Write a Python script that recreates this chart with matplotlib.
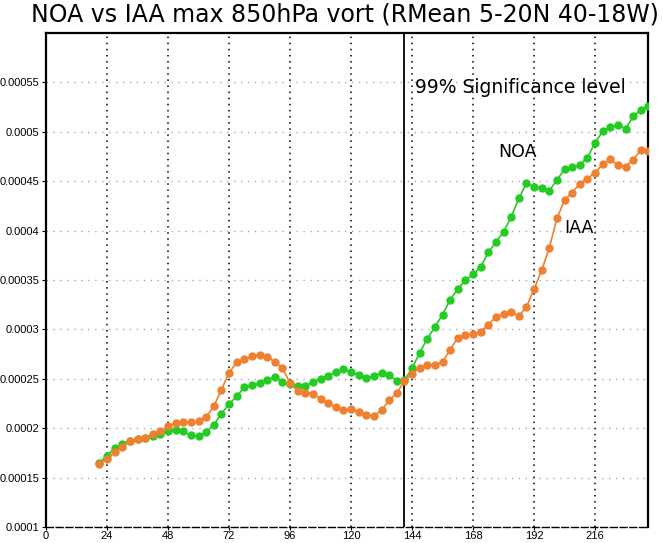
import numpy as np
import matplotlib
matplotlib.use("Agg")
import matplotlib.pyplot as plt

# forecast hour
hours = [21, 24, 27, 30, 33, 36, 39, 42, 45, 48, 51, 54, 57, 60, 63, 66, 69, 72, 75, 78,
         81, 84, 87, 90, 93, 96, 99, 102, 105, 108, 111, 114, 117, 120, 123, 126, 129, 132,
         135, 138, 141, 144, 147, 150, 153, 156, 159, 162, 165, 168, 171, 174, 177, 180,
         183, 186, 189, 192, 195, 198, 201, 204, 207, 210, 213, 216, 219, 222, 225, 228,
         231, 234, 237]

# vorticity, in units of 1e-4 s-1
noa = [1.652, 1.723, 1.798, 1.839, 1.875, 1.892, 1.900, 1.916, 1.943, 1.970, 1.984, 1.967,
       1.926, 1.916, 1.963, 2.034, 2.146, 2.244, 2.322, 2.413,
       2.433, 2.453, 2.484, 2.521, 2.468, 2.443, 2.423, 2.423, 2.471, 2.501, 2.531, 2.565,
       2.595, 2.569, 2.534, 2.511, 2.528, 2.559, 2.539, 2.478, 2.485,
       2.607, 2.764, 2.907, 3.025, 3.150, 3.299, 3.411, 3.495, 3.559, 3.630, 3.779, 3.884,
       3.989, 4.137, 4.327, 4.479, 4.445,
       4.428, 4.405, 4.512, 4.621, 4.644, 4.664, 4.739, 4.891, 5.003, 5.050, 5.067, 5.033,
       5.155, 5.222, 5.263]
iaa = [1.636, 1.690, 1.758, 1.814, 1.869, 1.889, 1.900, 1.943, 1.970, 2.017, 2.052, 2.058,
       2.058, 2.072, 2.113, 2.220, 2.389, 2.559, 2.666, 2.697,
       2.727, 2.738, 2.721, 2.673, 2.609, 2.453, 2.379, 2.356, 2.349, 2.298, 2.254, 2.210,
       2.180, 2.190, 2.163, 2.136, 2.119, 2.184, 2.281, 2.356, 2.478,
       2.550, 2.613, 2.643, 2.636, 2.673, 2.795, 2.917, 2.944, 2.950, 2.978, 3.046, 3.127,
       3.160, 3.177, 3.133, 3.228, 3.408,
       3.599, 3.827, 4.124, 4.309, 4.384, 4.476, 4.526, 4.587, 4.671, 4.722, 4.661, 4.648,
       4.719, 4.813, 4.806]

xticks = [0, 24, 48, 72, 96, 120, 144, 168, 192, 216]
yticks = [0.0001, 0.00015, 0.0002, 0.00025, 0.0003, 0.00035, 0.0004, 0.00045, 0.0005, 0.00055]
ytick_labels = ["0.0001", "0.00015", "0.0002", "0.00025", "0.0003", "0.00035",
                "0.0004", "0.00045", "0.0005", "0.00055"]
sig_hour = 141

fig = plt.figure(figsize=(6.63, 5.43), dpi=100)
ax = fig.add_axes([0.0694, 0.0295, 0.9087, 0.9098])

# grid: gray dotted horizontals, black dotted verticals
for yv in yticks[1:]:
    ax.axhline(yv, color="#aaaaaa", linestyle=(0, (1, 4)), linewidth=1.0, zorder=1)
for xv in xticks[1:]:
    ax.axvline(xv, color="black", linestyle=(0, (1, 3)), linewidth=1.1, zorder=1)

ax.axvline(sig_hour, color="black", linewidth=1.3, zorder=2)

ax.plot(hours, np.array(noa) * 1e-4, color="#22cc22", linewidth=1.2,
        marker="o", markersize=5, zorder=3)
ax.plot(hours, np.array(iaa) * 1e-4, color="#ee8030", linewidth=1.2,
        marker="o", markersize=5, zorder=4)

ax.text(145.3, 0.000545, "99% Significance level", fontsize=13.5, va="center", ha="left")
ax.text(185.5, 0.00048, "NOA", fontsize=12.5, ha="center", va="center")
ax.text(209.5, 0.000403, "IAA", fontsize=12.5, ha="center", va="center")

ax.set_xlim(0, 237)
ax.set_ylim(0.0001, 0.0006)
ax.set_xticks(xticks)
ax.set_xticklabels([str(v) for v in xticks])
ax.set_yticks(yticks)
ax.set_yticklabels(ytick_labels)
ax.tick_params(axis="y", direction="out", length=3, labelsize=8, pad=2)
ax.tick_params(axis="x", direction="out", length=2, labelsize=8, pad=1)
for lab in ax.get_xticklabels() + ax.get_yticklabels():
    lab.set_family("Liberation Sans")

for side in ["left", "right", "top"]:
    ax.spines[side].set_linewidth(1.6)
ax.spines["bottom"].set_linestyle((0, (5, 2)))
ax.spines["bottom"].set_linewidth(1.0)

fig.text(0.52, 0.974, "NOA vs IAA max 850hPa vort (RMean 5-20N 40-18W)",
         fontsize=17, ha="center", va="center")

fig.savefig("out.png", dpi=100)
